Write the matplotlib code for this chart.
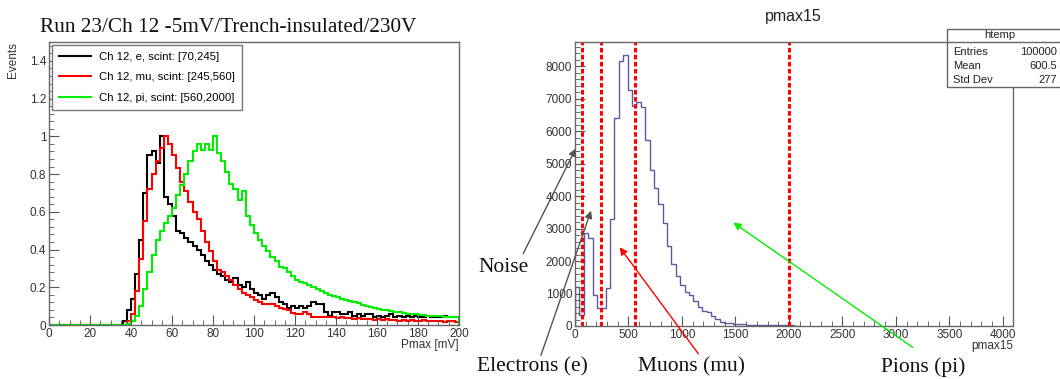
import numpy as np
import matplotlib
matplotlib.use("Agg")
import matplotlib.pyplot as plt
from matplotlib.patches import FancyArrowPatch, Rectangle
from matplotlib.lines import Line2D
from matplotlib.ticker import MultipleLocator

plt.rcParams['font.family'] = ['Liberation Sans', 'DejaVu Sans']

# left panel: normalised Pmax spectra, 2 mV bins from 0 to 200 mV
pmax_edges = np.arange(0, 202, 2)
e_vals = [0.0] * 18 + [
    0.02, 0.08, 0.14, 0.27, 0.45, 0.70, 0.90, 0.92, 0.86, 1.00,
    0.68, 0.64, 0.58, 0.50, 0.49, 0.46, 0.44, 0.42, 0.40, 0.37,
    0.34, 0.32, 0.29, 0.27, 0.26, 0.24, 0.23, 0.25, 0.21, 0.20,
    0.23, 0.19, 0.17, 0.16, 0.14, 0.16, 0.17, 0.15, 0.12, 0.11,
    0.09, 0.10, 0.09, 0.10, 0.09, 0.10, 0.12, 0.11, 0.11, 0.07,
    0.05, 0.07, 0.07, 0.06, 0.06, 0.07, 0.05, 0.06, 0.05, 0.06,
    0.06, 0.045, 0.05, 0.045, 0.05, 0.06, 0.04, 0.05, 0.04, 0.05,
    0.04, 0.05, 0.045, 0.04, 0.05, 0.04, 0.045, 0.04, 0.05, 0.04,
    0.045, 0.04]
mu_vals = [0.0] * 18 + [
    0.0, 0.02, 0.06, 0.18, 0.35, 0.55, 0.72, 0.80, 0.87, 0.94,
    1.00, 0.96, 0.90, 0.83, 0.76, 0.71, 0.65, 0.60, 0.56, 0.50,
    0.44, 0.39, 0.34, 0.29, 0.28, 0.26, 0.24, 0.21, 0.19, 0.17,
    0.16, 0.15, 0.13, 0.12, 0.11, 0.11, 0.11, 0.10, 0.09, 0.085,
    0.08, 0.065, 0.06, 0.06, 0.07, 0.06, 0.045, 0.045, 0.04, 0.045,
    0.04, 0.04, 0.035, 0.04, 0.035, 0.035, 0.03, 0.035, 0.03, 0.03,
    0.03, 0.025, 0.03, 0.025, 0.03, 0.025, 0.025, 0.02, 0.025, 0.02,
    0.025, 0.02, 0.02, 0.025, 0.02, 0.02, 0.02, 0.02, 0.015, 0.02,
    0.02, 0.015]
pi_vals = [0.0] * 18 + [
    0.0, 0.005, 0.02, 0.05, 0.10, 0.19, 0.28, 0.37, 0.45, 0.50,
    0.54, 0.58, 0.62, 0.69, 0.74, 0.80, 0.87, 0.92, 0.96, 0.93,
    0.96, 0.93, 1.00, 0.91, 0.87, 0.81, 0.75, 0.72, 0.66, 0.71,
    0.58, 0.53, 0.49, 0.45, 0.42, 0.39, 0.36, 0.34, 0.31, 0.30,
    0.28, 0.26, 0.24, 0.23, 0.22, 0.21, 0.20, 0.19, 0.18, 0.17,
    0.16, 0.155, 0.15, 0.14, 0.13, 0.125, 0.12, 0.115, 0.105, 0.10,
    0.095, 0.09, 0.085, 0.08, 0.08, 0.075, 0.07, 0.07, 0.065, 0.06,
    0.06, 0.06, 0.055, 0.055, 0.05, 0.05, 0.05, 0.05, 0.045, 0.045,
    0.045, 0.045]
series_labels = ['Ch 12, e, scint: [70,245]',
                 'Ch 12, mu, scint: [245,560]',
                 'Ch 12, pi, scint: [560,2000]']
series_colors = ['black', '#ff0000', '#00ee00']

# right panel: pmax15 distribution, 41-unit bins
pmax15_counts = [1200, 350, 2850, 2720, 950, 540, 540, 1160, 3280, 6390,
                 8160, 8340, 7270, 6770, 6900, 6750, 5720, 4790, 4240, 3740,
                 3180, 2460, 1900, 1540, 1270, 1060, 950, 780, 600, 450,
                 430, 320, 215, 135, 85, 80, 65, 55, 50, 45,
                 40, 40, 35, 35, 30, 30, 30, 25, 25, 20, 15]
pmax15_edges = np.arange(len(pmax15_counts) + 1) * 41
cut_edges = [70, 245, 560, 2000]
stats_rows = [('Entries', '100000'), ('Mean', '600.5'), ('Std Dev', '277')]

W, H = 1060, 379
fig = plt.figure(figsize=(W / 100, H / 100), dpi=100)


def fpx(x, y):
    return (x / W, 1 - y / H)


def root_style(ax):
    for s in ax.spines.values():
        s.set_color('#666666')
        s.set_linewidth(1.0)
    ax.tick_params(which='both', direction='in', top=False, right=False,
                   colors='#555555', labelcolor='#333333', labelsize=8.5, pad=2)
    ax.tick_params(which='major', length=7)
    ax.tick_params(which='minor', length=3.5)


# ---- left
axl = fig.add_axes([49 / W, 1 - 325 / H, 410 / W, 283 / H])
for vals, c in zip([e_vals, mu_vals, pi_vals], series_colors):
    axl.stairs(vals, pmax_edges, color=c, lw=1.5)
axl.set_xlim(0, 200)
axl.set_ylim(0, 1.5)
axl.xaxis.set_major_locator(MultipleLocator(20))
axl.xaxis.set_minor_locator(MultipleLocator(5))
axl.yaxis.set_minor_locator(MultipleLocator(0.04))
axl.set_yticks([0, 0.2, 0.4, 0.6, 0.8, 1.0, 1.2, 1.4])
axl.set_yticklabels(['0', '0.2', '0.4', '0.6', '0.8', '1', '1.2', '1.4'])
root_style(axl)
axl.set_ylabel('Events', fontsize=8.5, color='#333333', loc='top')
axl.yaxis.set_label_coords(-0.072, 1.0)
axl.set_xlabel('Pmax [mV]', fontsize=8.5, color='#333333', loc='right')
axl.xaxis.set_label_coords(1.0, -0.05)
handles = [Line2D([], [], color=c, lw=1.5) for c in series_colors]
leg = axl.legend(handles, series_labels, loc='upper left',
                 bbox_to_anchor=(0.008, 0.988), fontsize=8.2, frameon=True,
                 fancybox=False, edgecolor='#777777', framealpha=1,
                 handlelength=2.8, labelspacing=0.9, borderpad=0.6,
                 handletextpad=0.7, borderaxespad=0.0)
leg.get_frame().set_linewidth(1.0)

# ---- right
axr = fig.add_axes([575 / W, 1 - 326 / H, 438 / W, 284 / H])
axr.stairs(pmax15_counts, pmax15_edges, color='#5a5aa0', lw=1.0)
for c in cut_edges:
    axr.axvline(c, color='#ff0000', lw=2.2, ls=(0, (1.5, 0.8)))
axr.set_xlim(0, 4095)
axr.set_ylim(0, 8740)
axr.xaxis.set_major_locator(MultipleLocator(500))
axr.xaxis.set_minor_locator(MultipleLocator(100))
axr.yaxis.set_major_locator(MultipleLocator(1000))
axr.yaxis.set_minor_locator(MultipleLocator(200))
root_style(axr)
axr.set_xlabel('pmax15', fontsize=8.5, color='#333333', loc='right')
axr.xaxis.set_label_coords(1.0, -0.05)
fig.text(793 / W, fpx(0, 17)[1], 'pmax15', fontsize=11.5, color='#222222',
         ha='center', va='center')

# stats box
fig.add_artist(Rectangle(fpx(947, 87), 120 / W, 58 / H, transform=fig.transFigure,
                         facecolor='white', edgecolor='#666666', lw=1.0, zorder=5))
fig.add_artist(Line2D([947 / W, 1.0], [fpx(0, 42)[1]] * 2, transform=fig.transFigure,
                      color='#666666', lw=1.0, zorder=6))
fig.text(1000 / W, fpx(0, 35)[1], 'htemp', fontsize=8, color='#222222',
         ha='center', va='center', zorder=7)
for i, (k, v) in enumerate(stats_rows):
    y = fpx(0, 52 + 14 * i)[1]
    fig.text(953 / W, y, k, fontsize=8, color='#222222', ha='left', va='center', zorder=7)
    fig.text(1057 / W, y, v, fontsize=8, color='#222222', ha='right', va='center', zorder=7)

# ---- annotations
serif = ['Liberation Serif', 'DejaVu Serif']
fig.text(40 / W, fpx(0, 27)[1], 'Run 23/Ch 12 -5mV/Trench-insulated/230V',
         family=serif, fontsize=15.3, color='#111111', ha='left', va='center')
fig.text(504 / W, fpx(0, 268)[1], 'Noise', family=serif, fontsize=15.5,
         color='#111111', ha='center', va='center')
fig.text(532 / W, fpx(0, 367)[1], 'Electrons (e)', family=serif, fontsize=15.5,
         color='#111111', ha='center', va='center')
fig.text(692 / W, fpx(0, 367)[1], 'Muons (mu)', family=serif, fontsize=15.5,
         color='#111111', ha='center', va='center')
fig.text(923 / W, fpx(0, 367)[1], 'Pions (pi)', family=serif, fontsize=15.5,
         color='#111111', ha='center', va='center')

arrows = [((522, 256), (577, 146), '#555555'),
          ((540, 358), (592, 208), '#555555'),
          ((700, 356), (618, 245), '#ff0000'),
          ((915, 349), (731, 221), '#00ee00')]
for a, b, c in arrows:
    fig.add_artist(FancyArrowPatch(fpx(*a), fpx(*b), transform=fig.transFigure,
                                   arrowstyle='-|>', mutation_scale=11,
                                   color=c, lw=1.0, zorder=8))

fig.savefig('out.png', dpi=100)
